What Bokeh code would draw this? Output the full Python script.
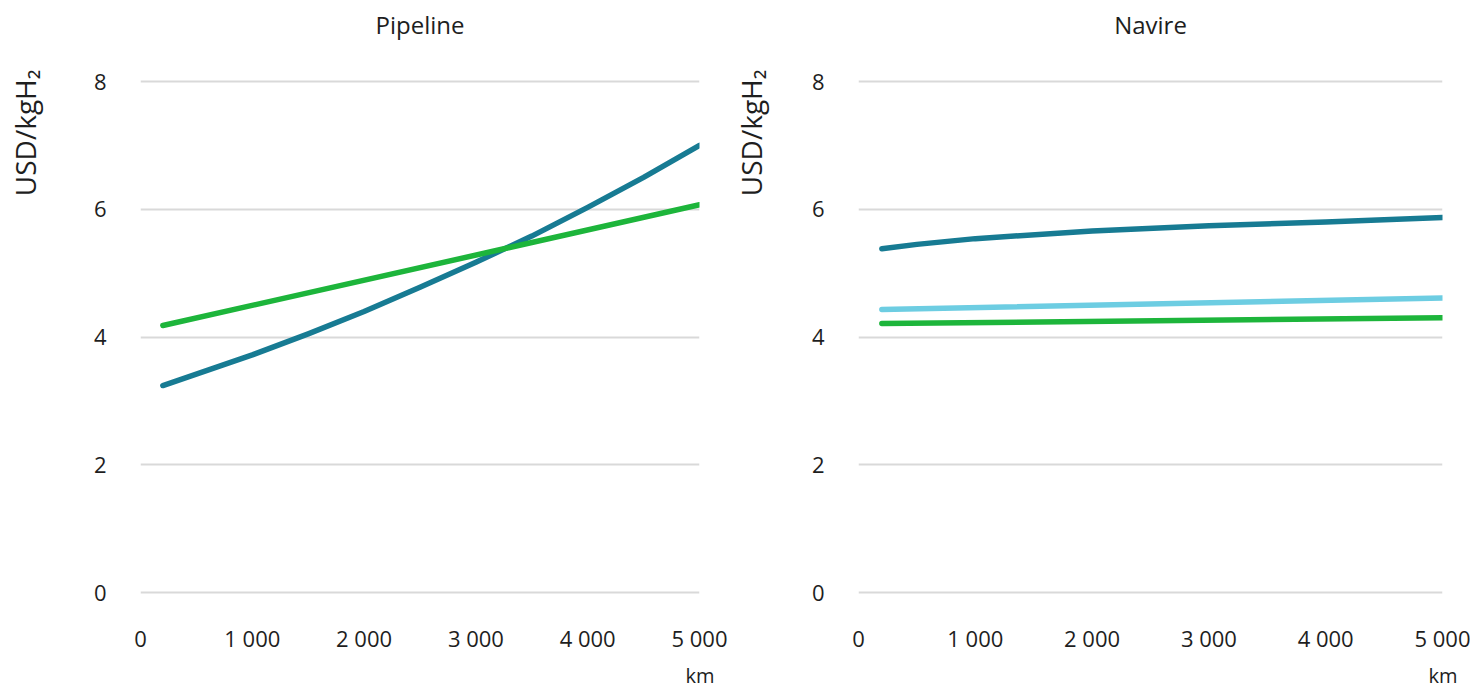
from bokeh.plotting import figure
from bokeh.layouts import row
from bokeh.models import FixedTicker, Title
from bokeh.embed import file_html
from bokeh.resources import INLINE

# ---- data ----
x_ticks = [0, 1000, 2000, 3000, 4000, 5000]
x_tick_labels = ["0", "1 000", "2 000", "3 000", "4 000", "5 000"]
y_ticks = [0, 2, 4, 6, 8]

pipe_teal_km = [200, 1000, 1500, 2000, 2500, 3000, 3500, 4000, 4500, 5000]
pipe_teal_usd = [3.24, 3.72, 4.05, 4.40, 4.78, 5.17, 5.58, 6.03, 6.50, 7.00]
pipe_green_km = [200, 5000]
pipe_green_usd = [4.18, 6.07]

ship_teal_km = [200, 500, 1000, 2000, 3000, 4000, 5000]
ship_teal_usd = [5.38, 5.45, 5.54, 5.66, 5.74, 5.80, 5.87]
ship_light_km = [200, 5000]
ship_light_usd = [4.43, 4.61]
ship_green_km = [200, 5000]
ship_green_usd = [4.21, 4.30]

titles = ["Pipeline", "Navire"]
y_label = "USD/kgH\u2082"
x_unit = "km"

TEAL = "#177b93"
GREEN = "#1db53b"
LIGHT = "#6dcde2"
GRID = "#d9d9d9"
TXT = "#1e1e1e"
FONT = "Open Sans"

PAD = 4 / (511 / 8.0)  # a few pixels of room so the 0 and 8 grid lines show


def spacer(size):
    # blank white title used only to reserve room next to the frame
    return Title(text=" ", text_font_size="2px", standoff=size, text_color="white")


def make_panel(title, series, width, bl, br, ylab_gap):
    p = figure(width=width, height=692, x_range=(0, 5000), y_range=(-PAD, 8 + PAD),
               min_border_left=bl, min_border_right=br, min_border_top=77,
               min_border_bottom=96, output_backend="svg", toolbar_location=None)
    p.outline_line_color = None
    p.background_fill_color = "white"
    p.border_fill_color = "white"
    p.xgrid.grid_line_color = None
    p.ygrid.grid_line_color = GRID
    p.ygrid.grid_line_width = 2
    for ax in (p.xaxis[0], p.yaxis[0]):
        ax.axis_line_color = None
        ax.major_tick_line_color = None
        ax.minor_tick_line_color = None
        ax.major_label_text_font = FONT
        ax.major_label_text_font_size = "22px"
        ax.major_label_text_color = TXT
    p.xaxis.ticker = FixedTicker(ticks=x_ticks)
    p.xaxis.major_label_overrides = {t: l for t, l in zip(x_ticks, x_tick_labels)}
    p.yaxis.ticker = FixedTicker(ticks=y_ticks)
    p.xaxis.major_label_standoff = 20
    p.yaxis.major_label_standoff = 28

    for xs, ys, col in series:
        p.line(xs, ys, line_color=col, line_width=5.5, line_cap="round", line_join="round")

    p.add_layout(spacer(30), "above")
    p.add_layout(Title(text=title, align="center", text_font=FONT,
                       text_font_size="24px", text_font_style="normal",
                       text_color=TXT, standoff=6), "above")
    p.add_layout(spacer(ylab_gap), "left")
    p.add_layout(Title(text=y_label, align="right", offset=-8, text_font=FONT,
                       text_font_size="28px", text_font_style="normal",
                       text_color=TXT, standoff=0), "left")
    p.add_layout(Title(text=x_unit, align="right", offset=-15, text_font=FONT,
                       text_font_size="20px", text_font_style="normal",
                       text_color=TXT, standoff=8), "below")
    return p


p1 = make_panel(titles[0],
                [(pipe_teal_km, pipe_teal_usd, TEAL), (pipe_green_km, pipe_green_usd, GREEN)],
                729, 140, 30, 43)
p2 = make_panel(titles[1],
                [(ship_teal_km, ship_teal_usd, TEAL), (ship_light_km, ship_light_usd, LIGHT),
                 (ship_green_km, ship_green_usd, GREEN)],
                741, 128, 28, 35)

layout = row(p1, p2)
open("out.html", "w").write(file_html(layout, INLINE))
